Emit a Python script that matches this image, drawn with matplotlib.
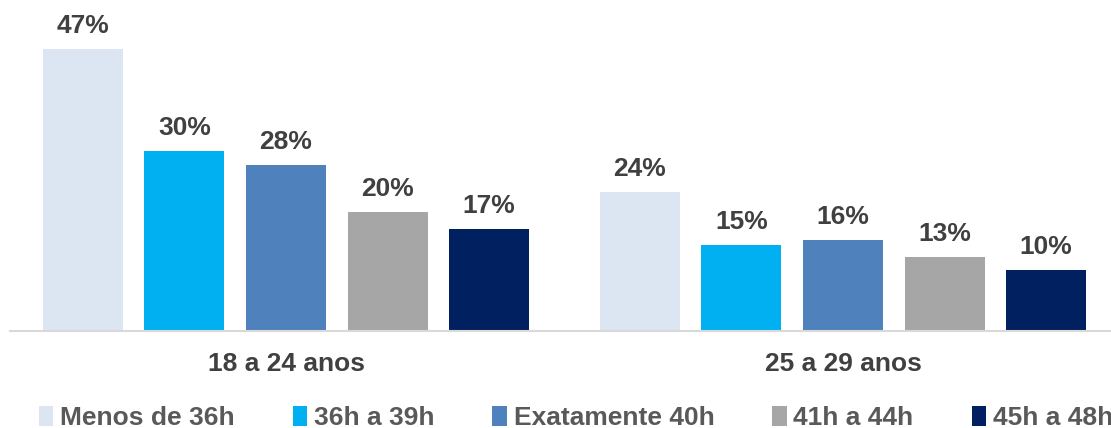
import numpy as np
import matplotlib.pyplot as plt
from matplotlib.patches import Patch

plt.rcParams['font.family'] = ['Liberation Sans', 'DejaVu Sans']

grupos = ['18 a 24 anos', '25 a 29 anos']
jornadas = ['Menos de 36h', '36h a 39h', 'Exatamente 40h', '41h a 44h', '45h a 48h']
valores = {
    'Menos de 36h': [47, 23.2],
    '36h a 39h': [30, 14.3],
    'Exatamente 40h': [27.7, 15.2],
    '41h a 44h': [19.8, 12.3],
    '45h a 48h': [17, 10.2],
}
rotulos = {
    'Menos de 36h': ['47%', '24%'],
    '36h a 39h': ['30%', '15%'],
    'Exatamente 40h': ['28%', '16%'],
    '41h a 44h': ['20%', '13%'],
    '45h a 48h': ['17%', '10%'],
}
cores = ['#DCE6F2', '#00B0F0', '#4F81BD', '#A6A6A6', '#002060']

fig = plt.figure(figsize=(11.11, 4.28), dpi=100)
ax = fig.add_axes([10 / 1111, 97 / 428, 1101 / 1111, 331 / 428])

x = np.arange(len(grupos))
passo = 0.1823
larg = 0.1436
for i, j in enumerate(jornadas):
    pos = x + (i - 2) * passo
    barras = ax.bar(pos, valores[j], larg, color=cores[i], label=j)
    for b, v, r in zip(barras, valores[j], rotulos[j]):
        ax.text(b.get_x() + b.get_width() / 2, v + 1.8, r, ha='center', va='bottom',
                fontsize=19, fontweight='bold', color='#404040')

ax.set_xlim(-0.4955, 1.4811)
ax.set_ylim(0, 55.17)
ax.set_yticks([])
ax.set_xticks(x)
ax.set_xticklabels(grupos, fontsize=19, fontweight='bold', color='#404040')
ax.tick_params(axis='x', length=0, pad=15)
for s in ['top', 'right', 'left']:
    ax.spines[s].set_visible(False)
ax.spines['bottom'].set_color('#D9D9D9')
ax.spines['bottom'].set_linewidth(1.5)

handles = [Patch(facecolor=c, label=j) for c, j in zip(cores, jornadas)]
leg = fig.legend(handles=handles, loc='center', bbox_to_anchor=(576 / 1111, 10 / 428), ncol=5,
                 frameon=False, handlelength=0.55, handleheight=0.8, handletextpad=0.25,
                 columnspacing=2.2, prop={'size': 19, 'weight': 'bold'})
for t in leg.get_texts():
    t.set_color('#595959')

fig.savefig('out.png', dpi=100)
